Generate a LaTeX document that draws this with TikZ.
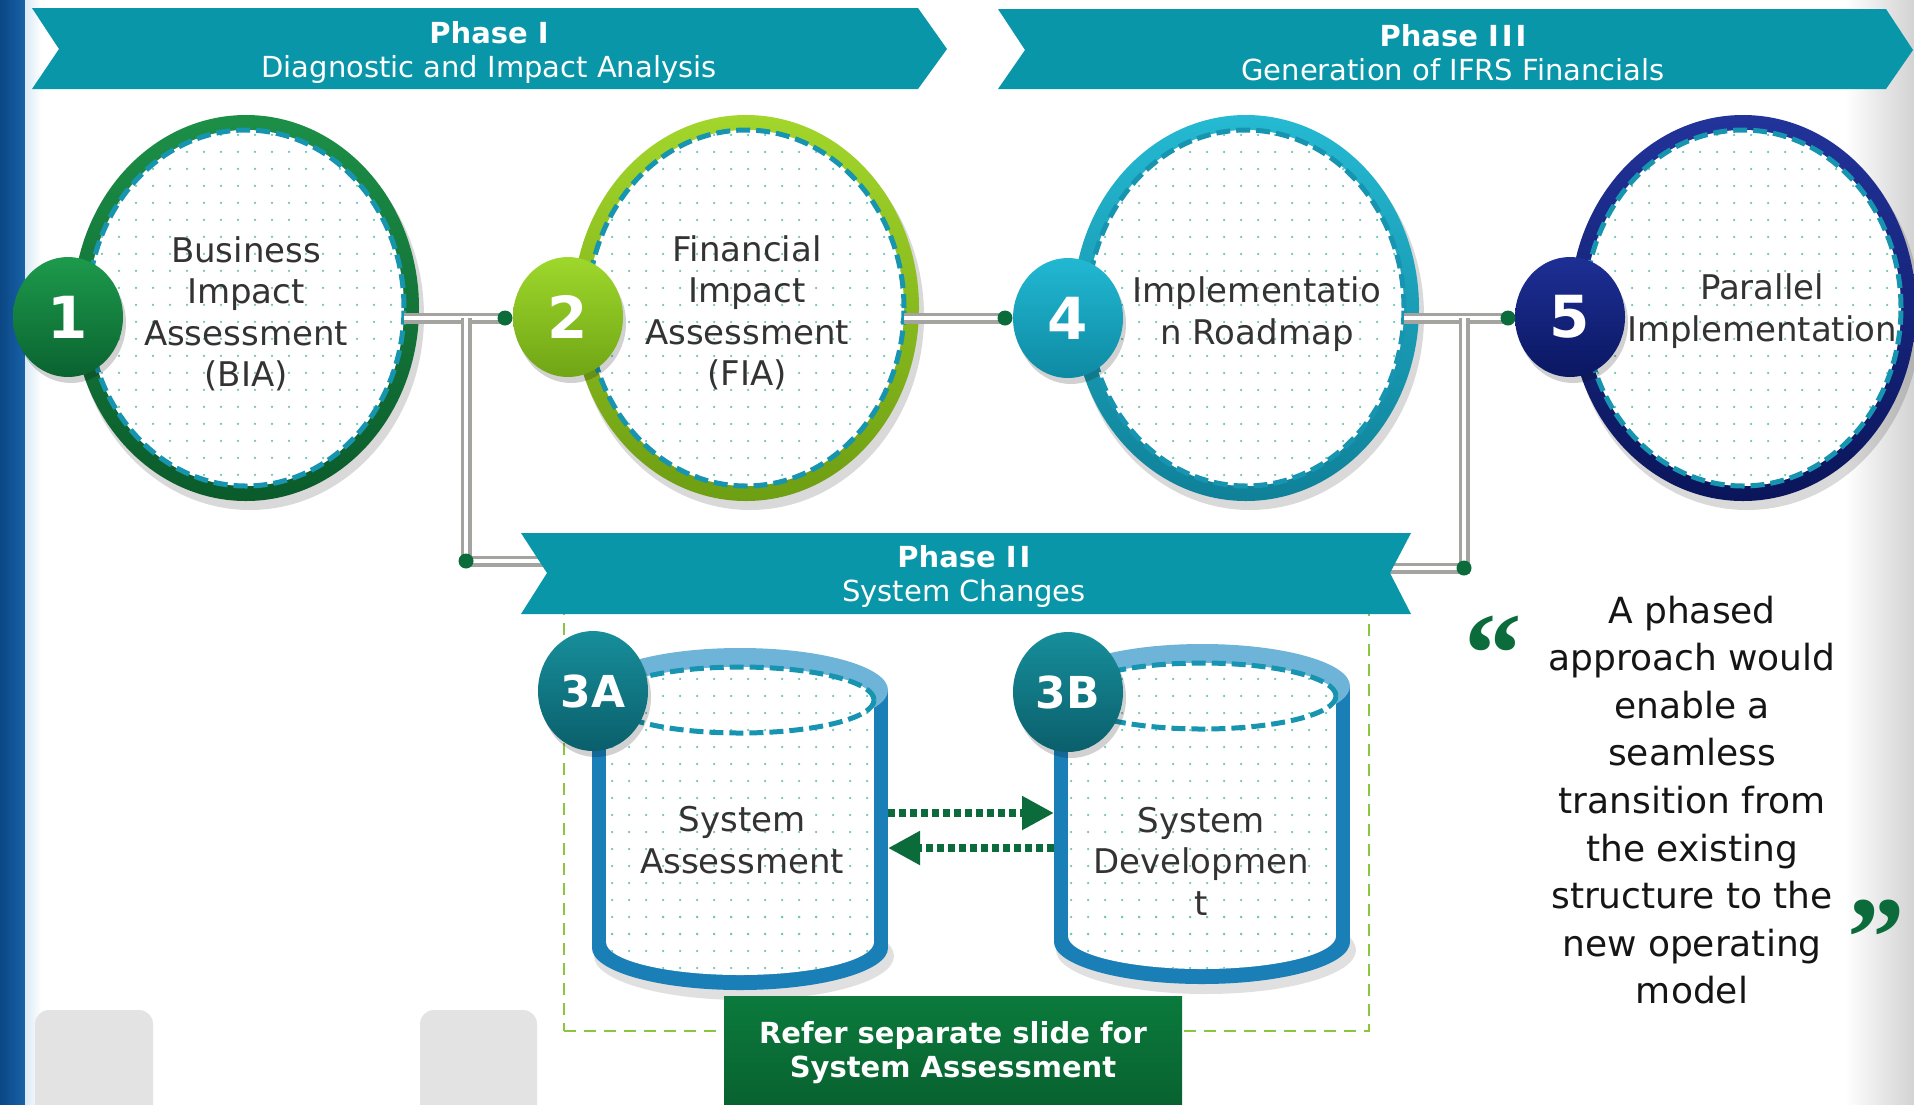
\documentclass[tikz,border=0pt]{standalone}
\usepackage{fontspec}
\setmainfont{DejaVu Sans}
\newfontfamily\quotefont{Liberation Serif}
\usetikzlibrary{shapes.geometric, patterns, arrows.meta, calc}

\definecolor{bannerteal}{HTML}{0996A8}
\definecolor{dashteal}{HTML}{1795B0}
\definecolor{dotc}{HTML}{6CC5B8}
\definecolor{linegrey}{HTML}{A3A3A0}
\definecolor{dotgreen}{HTML}{0B6B3A}
\definecolor{textdark}{HTML}{333333}
\definecolor{quotetext}{HTML}{151515}
\definecolor{r1t}{HTML}{1C8F47}\definecolor{r1b}{HTML}{0B5B2B}
\definecolor{r2t}{HTML}{A3D62B}\definecolor{r2b}{HTML}{6E9E12}
\definecolor{r4t}{HTML}{25B9D2}\definecolor{r4b}{HTML}{0F8199}
\definecolor{r5t}{HTML}{22339A}\definecolor{r5b}{HTML}{0A155A}
\definecolor{b1t}{HTML}{1D9A4C}\definecolor{b1b}{HTML}{0A6330}
\definecolor{b2t}{HTML}{9ED82C}\definecolor{b2b}{HTML}{70A515}
\definecolor{b4t}{HTML}{22B8D2}\definecolor{b4b}{HTML}{0E8AA3}
\definecolor{b5t}{HTML}{1E2F95}\definecolor{b5b}{HTML}{0A1762}
\definecolor{b3t}{HTML}{178E9B}\definecolor{b3b}{HTML}{0A5F6B}
\definecolor{cyldark}{HTML}{1A7EB7}
\definecolor{cyllight}{HTML}{6DB4D8}
\definecolor{boxtop}{HTML}{0B7A3C}
\definecolor{boxbot}{HTML}{08612F}
\definecolor{limec}{HTML}{8CC63F}
\definecolor{greyrect}{HTML}{E3E3E3}
\definecolor{stripA}{HTML}{0B4784}
\definecolor{stripB}{HTML}{1762A8}
\definecolor{stripC}{HTML}{DCEAF6}

\pgfdeclarepatternformonly{bigdots}{\pgfqpoint{-2pt}{-2pt}}{\pgfqpoint{2pt}{2pt}}{\pgfqpoint{17pt}{17pt}}{\pgfpathcircle{\pgfqpoint{0pt}{0pt}}{1.25pt}\pgfusepath{fill}}

\newcommand\mycyl[3]{%
  \fill[black,opacity=.12] (#1+4,#3+8) ellipse [x radius=150, y radius=44];
  \fill[cyldark] ({#1-148},#2) rectangle ({#1+148},#3);
  \fill[cyldark] (#1,#3) ellipse [x radius=148, y radius=42];
  \fill[cyllight] (#1,#2) ellipse [x radius=148, y radius=42];
  \fill[white] ({#1-134},{#2+10}) rectangle ({#1+134},{#3-6});
  \fill[white] (#1,{#3-6}) ellipse [x radius=134, y radius=33];
  \fill[pattern=bigdots, pattern color=dotc] ({#1-134},{#2+10}) rectangle ({#1+134},{#3-6});
  \fill[pattern=bigdots, pattern color=dotc] (#1,{#3-6}) ellipse [x radius=134, y radius=33];
  \fill[white] (#1,{#2+10}) ellipse [x radius=134, y radius=33];
  \fill[pattern=bigdots, pattern color=dotc] (#1,{#2+10}) ellipse [x radius=134, y radius=33];
  \draw[draw=dashteal, line width=5pt, dash pattern=on 14pt off 6pt] (#1,{#2+10}) ellipse [x radius=134, y radius=33];
}

\begin{document}
\begin{tikzpicture}[x=1pt, y=-1pt,
  ring/.style 2 args={ellipse, inner sep=0, outer sep=0, minimum width=346pt, minimum height=386pt, top color=#1, bottom color=#2},
  cinner/.style={ellipse, inner sep=0, outer sep=0, minimum width=316pt, minimum height=356pt, preaction={fill=white}, pattern=bigdots, pattern color=dotc, draw=dashteal, line width=5pt, dash pattern=on 14pt off 6pt},
  ctext/.style={font=\fontsize{34}{41.5}\selectfont, text=textdark, align=center, inner sep=0},
  dbl/.style={draw=linegrey, line width=3.5pt, double=white, double distance=4pt},
  jdot/.style={circle, fill=dotgreen, minimum size=15pt, inner sep=0},
  badge/.style 2 args={ellipse, inner sep=0, outer sep=0, minimum width=110pt, minimum height=120pt, top color=#1, bottom color=#2, text=white, font=\fontsize{58}{60}\selectfont\bfseries},
  bshadow/.style={fill=black, opacity=.18},
  bantext/.style={text=white, align=center, font=\fontsize{29}{34}\selectfont, inner sep=0},
  garrow/.style={draw=dotgreen, line width=8pt, dash pattern=on 7pt off 4pt, -{Triangle[length=32pt, width=32pt]}},
  qtext/.style={text=quotetext, align=center, font=\fontsize{36}{47.6}\selectfont, inner sep=0},
  qmark/.style={text=dotgreen, inner sep=0, font=\quotefont\fontsize{115}{115}\selectfont\bfseries},
  gbox/.style={top color=boxtop, bottom color=boxbot, text=white, align=center, inner sep=0, minimum width=458pt, minimum height=114pt, font=\fontsize{29}{34}\selectfont\bfseries},
  limedash/.style={draw=limec, line width=2.5pt, dash pattern=on 12pt off 8pt}
]
\useasboundingbox (0,0) rectangle (1914,1104);
\fill[white] (0,0) rectangle (1914,1104);
\shade[left color=white, right color=gray!35] (1845,0) rectangle (1914,1104);
\shade[left color=stripA, right color=stripB] (0,0) rectangle (25,1104);
\shade[left color=stripC, right color=white] (25,0) rectangle (42,1104);
\fill[greyrect, rounded corners=14pt] (35,1010) rectangle (153,1140);
\fill[greyrect, rounded corners=14pt] (420,1010) rectangle (537,1140);

% dashed frame of phase II
\node[limedash, minimum width=805pt, minimum height=419pt, inner sep=0, outer sep=0] (frame) at (966.5,821.5) {};

% circles
\fill[black, opacity=.15] (250,316) ellipse [x radius=174, y radius=194];
\node[ring={r1t}{r1b}] (r1) at (246,308) {};
\node[cinner] (c1) at (246,308) {};
\node[ctext] (t1) at (246,314) {Business\\Impact\\Assessment\\(BIA)};

\fill[black, opacity=.15] (750,316) ellipse [x radius=174, y radius=194];
\node[ring={r2t}{r2b}] (r2) at (746,308) {};
\node[cinner] (c2) at (746,308) {};
\node[ctext] (t2) at (747,313) {Financial\\Impact\\Assessment\\(FIA)};

\fill[black, opacity=.15] (1250,316) ellipse [x radius=174, y radius=194];
\node[ring={r4t}{r4b}] (r4) at (1246,308) {};
\node[cinner] (c4) at (1246,308) {};
\node[ctext] (t4) at (1257,314) {Implementatio\\n Roadmap};

\fill[black, opacity=.15] (1747,316) ellipse [x radius=174, y radius=194];
\node[ring={r5t}{r5b}] (r5) at (1743,308) {};
\node[cinner] (c5) at (1743,308) {};
\node[ctext] (t5) at (1762,311) {Parallel\\Implementation};

% connector points
\coordinate (d2) at (505,318);
\coordinate (d4) at (1005,318);
\coordinate (d5) at (1508,318);
\coordinate (e1) at (466,561);
\coordinate (e2) at (1464,568);
\coordinate (p2w) at (560,573);
\coordinate (p2e) at (1380,573);

\draw[dbl] (c1.east |- d2) -- (d2);
\draw[dbl] (c2.east |- d4) -- (d4);
\draw[dbl] (c4.east |- d5) -- (d5);
\draw[dbl] (e1 |- d2) -- (e1) -- (p2w |- e1);
\draw[dbl] (e2 |- d5) -- (e2) -- (p2e |- e2);

% banners
\fill[bannerteal] (32,8) -- (918,8) -- (947,49) -- (918,89) -- (32,89) -- (59,49) -- cycle;
\fill[bannerteal] (998,9) -- (1886,9) -- (1913,50) -- (1886,89) -- (998,89) -- (1025,50) -- cycle;
\fill[bannerteal] (521,533) -- (1411,533) -- (1390,573) -- (1411,614) -- (521,614) -- (547,573) -- cycle;
\node[bantext] (ph1) at (489,52) {\textbf{Phase I}\\Diagnostic and Impact Analysis};
\node[bantext] (ph3) at (1453,53) {\textbf{Phase I\kern3pt I\kern3pt I}\\Generation of IFRS Financials};
\node[bantext] (ph2) at (964,576) {\textbf{Phase I\kern3pt I}\\System Changes};

% cylinders
\mycyl{740}{690}{948}
\mycyl{1202}{686}{942}
\node[minimum width=296pt, minimum height=300pt, inner sep=0, outer sep=0] (cA) at (740,830) {};
\node[minimum width=296pt, minimum height=300pt, inner sep=0, outer sep=0] (cB) at (1202,830) {};
\node[ctext] (tA) at (742,840) {System\\Assessment};
\node[ctext] (tB) at (1201,861) {System\\Developmen\\t};

\draw[garrow] ([yshift=17pt]cA.east) -- ([yshift=17pt]cB.west);
\draw[garrow] ([yshift=-18pt]cB.west) -- ([yshift=-18pt]cA.east);

% badges
\fill[bshadow] (71,323) ellipse [x radius=55, y radius=60];
\node[badge={b1t}{b1b}] (b1) at (68,317) {1};
\fill[bshadow] (571,323) ellipse [x radius=55, y radius=60];
\node[badge={b2t}{b2b}] (b2) at (568,317) {2};
\fill[bshadow] (1071,324) ellipse [x radius=55, y radius=60];
\node[badge={b4t}{b4b}] (b4) at (1068,318) {4};
\fill[bshadow] (1573,323) ellipse [x radius=55, y radius=60];
\node[badge={b5t}{b5b}] (b5) at (1570,317) {5};
\fill[bshadow] (596,697) ellipse [x radius=55, y radius=60];
\node[badge={b3t}{b3b}, font=\fontsize{44}{46}\selectfont\bfseries] (b3a) at (593,691) {3A};
\fill[bshadow] (1071,698) ellipse [x radius=55, y radius=60];
\node[badge={b3t}{b3b}, font=\fontsize{44}{46}\selectfont\bfseries] (b3b) at (1068,692) {3B};

% junction dots
\node[jdot] (n2) at (d2) {};
\node[jdot] (n4) at (d4) {};
\node[jdot] (n5) at (d5) {};
\node[jdot] (m1) at (e1) {};
\node[jdot] (m2) at (e2) {};

% green box
\node[gbox] (gb) at (953,1053) {Refer separate slide for\\System Assessment};

% quote
\node[qtext] (q) at (1692,800) {A phased\\approach would\\enable a\\seamless\\transition from\\the existing\\structure to the\\new operating\\model};
\node[qmark, anchor=base] (ql) at (1493,692) {“};
\node[qmark, anchor=base] (qr) at (1876,976) {”};
\end{tikzpicture}
\end{document}
